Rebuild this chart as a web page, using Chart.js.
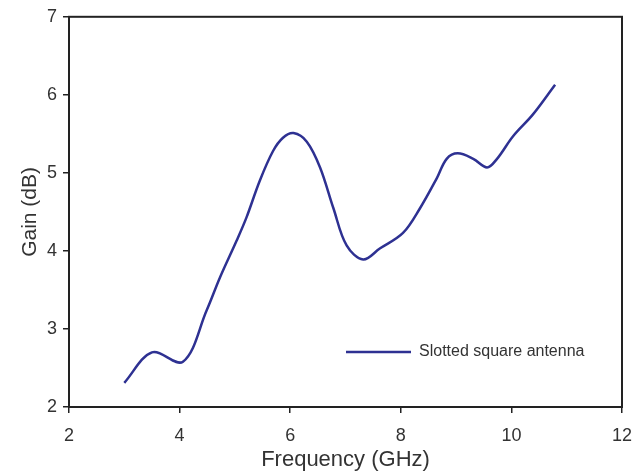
<!DOCTYPE html>
<html>
<head>
<meta charset="utf-8">
<script src="https://cdn.jsdelivr.net/npm/chart.js@4"></script>
<style>
    html, body { margin: 0; padding: 0; background: #fff; }
    #wrap { width: 642px; height: 471px; }
</style>
</head>
<body>
<div id="wrap"><canvas id="gain-chart" width="642" height="471"></canvas></div>
<script>
// Frequency (GHz) and gain (dB)
const freq = [3.0, 3.5, 4.06, 4.49, 4.73, 5.03, 5.21, 5.45, 5.69, 5.87, 6.06, 6.30, 6.54, 6.78, 7.02, 7.32, 7.62, 8.04, 8.35, 8.65, 8.83, 9.03, 9.31, 9.56, 9.74, 10.03, 10.39, 10.79];
const gain = [2.31, 2.70, 2.58, 3.24, 3.66, 4.13, 4.43, 4.90, 5.28, 5.45, 5.51, 5.40, 5.07, 4.55, 4.07, 3.89, 4.03, 4.23, 4.55, 4.93, 5.18, 5.25, 5.18, 5.07, 5.18, 5.47, 5.75, 6.13];
const seriesName = "Slotted square antenna";
const xTicks = [2, 4, 6, 8, 10, 12];
const yTicks = [2, 3, 4, 5, 6, 7];

const lineColor = "#2e3192";
const axisColor = "#222";
const textColor = "#333";
const fontFamily = "'Liberation Sans', Arial, sans-serif";

// box around the plot area
const frameBox = {
    id: "frameBox",
    afterDraw(chart) {
        const { ctx, chartArea: a } = chart;
        ctx.save();
        ctx.strokeStyle = axisColor;
        ctx.lineWidth = 2;
        ctx.strokeRect(a.left, a.top, a.right - a.left, a.bottom - a.top);
        ctx.restore();
    }
};

// legend sitting inside the plot
const innerLegend = {
    id: "innerLegend",
    afterDraw(chart) {
        const { ctx } = chart;
        const ds = chart.data.datasets[0];
        const x = 346, y = 352;
        ctx.save();
        ctx.strokeStyle = ds.borderColor;
        ctx.lineWidth = 2.5;
        ctx.beginPath();
        ctx.moveTo(x, y);
        ctx.lineTo(x + 65, y);
        ctx.stroke();
        ctx.fillStyle = textColor;
        ctx.font = "16px " + fontFamily;
        ctx.textBaseline = "middle";
        ctx.fillText(ds.label, x + 73, y);
        ctx.restore();
    }
};

new Chart(document.getElementById("gain-chart"), {
    type: "line",
    data: {
        datasets: [{
            label: seriesName,
            data: freq.map((f, i) => ({ x: f, y: gain[i] })),
            borderColor: lineColor,
            backgroundColor: lineColor,
            borderWidth: 2.5,
            pointRadius: 0,
            tension: 0.35,
            fill: false
        }]
    },
    options: {
        responsive: false,
        animation: false,
        layout: { padding: { top: 15, right: 20, left: 14, bottom: 0 } },
        plugins: {
            legend: { display: false },
            tooltip: { enabled: false }
        },
        scales: {
            x: {
                type: "linear",
                min: 2,
                max: 12,
                afterBuildTicks: (axis) => { axis.ticks = xTicks.map(v => ({ value: v })); },
                afterFit: (axis) => {
                    axis.height = 64;
                    axis.paddingLeft = 0;
                    axis.paddingRight = 0;
                },
                border: { display: true, color: axisColor, width: 2 },
                grid: { drawOnChartArea: false, drawTicks: true, tickLength: 6, color: axisColor, lineWidth: 1.5 },
                ticks: { color: textColor, font: { family: fontFamily, size: 18 }, padding: 12, maxRotation: 0 },
                title: { display: true, text: "Frequency (GHz)", color: textColor, font: { family: fontFamily, size: 22 }, padding: { top: 2, bottom: -2 } }
            },
            y: {
                type: "linear",
                min: 2,
                max: 7,
                afterBuildTicks: (axis) => { axis.ticks = yTicks.map(v => ({ value: v })); },
                afterFit: (axis) => { axis.width = 55; },
                border: { display: true, color: axisColor, width: 2 },
                grid: { drawOnChartArea: false, drawTicks: true, tickLength: 6, color: axisColor, lineWidth: 1.5 },
                ticks: { color: textColor, font: { family: fontFamily, size: 18 }, padding: 6 },
                title: { display: true, text: "Gain (dB)", color: textColor, font: { family: fontFamily, size: 21 }, padding: { bottom: 4 } }
            }
        }
    },
    plugins: [frameBox, innerLegend]
});
</script>
</body>
</html>
